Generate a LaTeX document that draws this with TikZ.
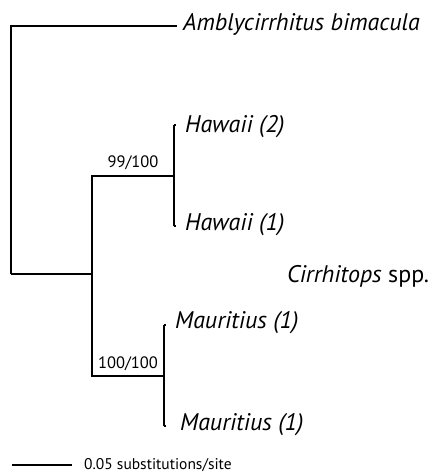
\documentclass[tikz,border=0pt]{standalone}
\usepackage{fontspec}
\setmainfont{PT Sans}

\begin{document}
\begin{tikzpicture}[x=1pt,y=-1pt,
    branch/.style={line width=1.4pt},
    taxon/.style={anchor=west,inner sep=0pt,font=\fontsize{24}{28}\selectfont\itshape},
    support/.style={inner sep=0pt,font=\fontsize{16.5}{19}\selectfont}]
  \useasboundingbox (0,0) rectangle (432,473);

  % nodes of the tree
  \coordinate (root) at (11,274);
  \coordinate (out) at (177,26);
  \coordinate (ingrp) at (92,274);
  \coordinate (haw) at (174,176);
  \coordinate (mau) at (164,376);
  \coordinate (haw2) at (174,125);
  \coordinate (haw1) at (174,226);
  \coordinate (mau1a) at (164,325);
  \coordinate (mau1b) at (164,426);

  % taxa
  \node[taxon] (ambly) at (183,24) {Amblycirrhitus bimacula};
  \node[taxon] (h2) at (185,127) {Hawaii (2)};
  \node[taxon] (h1) at (185,225) {Hawaii (1)};
  \node[taxon] (m1) at (175,323) {Mauritius (1)};
  \node[taxon] (m2) at (180,425) {Mauritius (1)};
  \node[taxon,font=\fontsize{24}{28}\selectfont] (cirr) at (287,276) {\textit{Cirrhitops} spp.};

  % branches
  \draw[branch] (root) |- (out);
  \draw[branch] (root) -- (ingrp);
  \draw[branch] (ingrp) |- (haw);
  \draw[branch] (ingrp) |- (mau);
  \draw[branch] (haw2) -- (haw1);
  \draw[branch] (mau1a) -- (mau1b);
  \draw[branch] (haw2) -- ++(1.5,0);
  \draw[branch] (haw1) -- ++(2,0);
  \draw[branch] (mau1a) -- ++(1.5,0);
  \draw[branch] (mau1b) -- ++(2,0);

  % support values
  \node[support,anchor=south] (s99) at (133,170) {99/100};
  \node[support,anchor=south] (s100) at (128,371) {100/100};

  % scale bar
  \coordinate (sa) at (12,465);
  \coordinate (sb) at (72,465);
  \draw[line width=1.2pt] (sa) -- (sb);
  \node[anchor=west,inner sep=0pt,font=\fontsize{15.5}{18}\selectfont] (scale) at (84,465) {0.05 substitutions/site};
\end{tikzpicture}
\end{document}
